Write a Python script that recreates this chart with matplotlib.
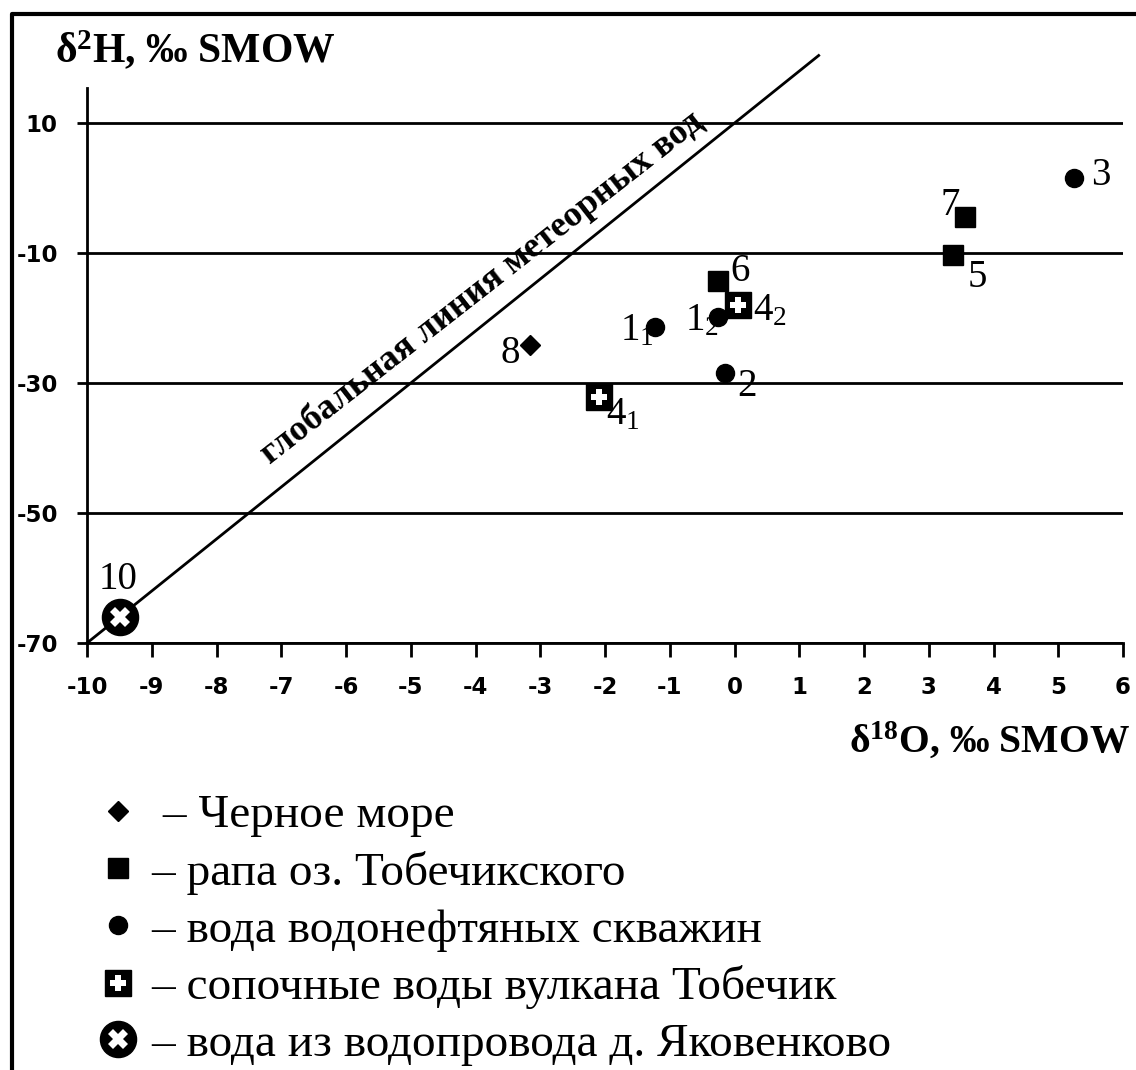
import matplotlib
matplotlib.use("Agg")
import matplotlib.pyplot as plt
from matplotlib.lines import Line2D
from matplotlib.legend_handler import HandlerTuple

plt.rcParams["mathtext.fontset"] = "custom"
plt.rcParams["mathtext.rm"] = "Liberation Serif"
plt.rcParams["mathtext.bf"] = "Liberation Serif:bold"
plt.rcParams["mathtext.it"] = "Liberation Serif:italic"
plt.rcParams["axes.unicode_minus"] = False

SERIF = "Liberation Serif"

# Data (d18O, d2H, per mil SMOW)
sea_x = [-3.16]
sea_y = [-24.2]
sea_lbl = ["8"]

brine_x = [-0.25, 3.37, 3.56]
brine_y = [-14.3, -10.3, -4.45]
brine_lbl = ["6", "5", "7"]

well_x = [-1.23, -0.25, -0.15, 5.24]
well_y = [-21.4, -19.85, -28.5, 1.5]
well_lbl = ["1$_1$", "1$_2$", "2", "3"]

mud_x = [-2.09, 0.05]
mud_y = [-32.15, -18.0]
mud_lbl = ["4$_1$", "4$_2$"]

tap_x = [-9.49]
tap_y = [-66.0]
tap_lbl = ["10"]

# global meteoric water line, end points
gmwl_x = [-10.0, 1.3]
gmwl_y = [-70.0, 20.4]

x_ticks = list(range(-10, 7))
y_ticks = [10, -10, -30, -50, -70]

# label offsets in pixels (dx, dy) for each point
sea_off = [(-20, -8)]
brine_off = [(22, 10), (25, -22), (-15, 12)]
well_off = [(-18, -4), (-16, -4), (22, -13), (27, 3)]
mud_off = [(24, -18), (32, -6)]
tap_off = [(-2, 38)]

fig = plt.figure(figsize=(11.36, 10.7), dpi=100)
ax = fig.add_axes([87 / 1136, 1 - 643 / 1070, (1123 - 87) / 1136, (643 - 88) / 1070])
ax.set_xlim(-10, 6)
ax.set_ylim(-70, 15.4)

ax.spines["top"].set_visible(False)
ax.spines["right"].set_visible(False)
for s in ("left", "bottom"):
    ax.spines[s].set_linewidth(2)
ax.set_xticks(x_ticks)
ax.set_yticks(y_ticks)
ax.tick_params(axis="x", direction="out", length=10, width=2, pad=14, labelsize=16.5)
ax.tick_params(axis="y", direction="out", length=7, width=2, pad=14, labelsize=16.5)
for t in ax.get_xticklabels() + ax.get_yticklabels():
    t.set_fontweight("bold")
    t.set_family("DejaVu Sans")
ax.grid(axis="y", color="black", linewidth=2)
ax.set_axisbelow(True)

ax.plot(gmwl_x, gmwl_y, color="black", linewidth=2, clip_on=False, zorder=2)
ax.text(-3.9, -15.3, "глобальная линия метеорных вод", rotation=38.0,
        rotation_mode="anchor", ha="center", va="center",
        fontsize=26, fontweight="bold", family=SERIF)

h_sea, = ax.plot(sea_x, sea_y, "D", color="black", markersize=10, linestyle="none", zorder=4)
h_brine, = ax.plot(brine_x, brine_y, "s", color="black", markersize=14, linestyle="none", zorder=4)
h_well, = ax.plot(well_x, well_y, "o", color="black", markersize=13, linestyle="none", zorder=4)
h_mud1, = ax.plot(mud_x, mud_y, "s", color="black", markersize=19, linestyle="none", zorder=4)
h_mud2, = ax.plot(mud_x, mud_y, "P", color="white", markersize=11, markeredgewidth=0,
                  linestyle="none", zorder=5)
h_tap1, = ax.plot(tap_x, tap_y, "o", color="black", markersize=26, linestyle="none", zorder=4)
h_tap2, = ax.plot(tap_x, tap_y, "X", color="white", markersize=14, markeredgewidth=0,
                  linestyle="none", zorder=5)

for xs, ys, lbls, offs in [(sea_x, sea_y, sea_lbl, sea_off),
                           (brine_x, brine_y, brine_lbl, brine_off),
                           (well_x, well_y, well_lbl, well_off),
                           (mud_x, mud_y, mud_lbl, mud_off),
                           (tap_x, tap_y, tap_lbl, tap_off)]:
    for x, y, lbl, (dx, dy) in zip(xs, ys, lbls, offs):
        ax.annotate(lbl, (x, y), xytext=(dx, dy), textcoords="offset pixels",
                    ha="center", va="center", fontsize=28, family=SERIF, zorder=6)

# axis titles
fig.text(55 / 1136, 1 - 50 / 1070, r"δ$^\mathbf{2}$H, ‰ SMOW", ha="left", va="center",
         fontsize=30, fontweight="bold", family=SERIF)
fig.text(1130 / 1136, 1 - 740 / 1070, r"δ$^\mathbf{18}$O, ‰ SMOW", ha="right", va="center",
         fontsize=28.5, fontweight="bold", family=SERIF)

# legend
handles = [h_sea, h_brine, h_well, (h_mud1, h_mud2), (h_tap1, h_tap2)]
labels = [" – Черное море", "– рапа оз. Тобечикского", "– вода водонефтяных скважин",
          "– сопочные воды вулкана Тобечик", "– вода из водопровода д. Яковенково"]
fig.legend(handles, labels, loc="upper left", bbox_to_anchor=(96 / 1136, 1 - 794 / 1070),
           frameon=False, numpoints=1, handlelength=0.92, handletextpad=0.25,
           labelspacing=0.29, borderaxespad=0, borderpad=0,
           handler_map={tuple: HandlerTuple(ndivide=1)},
           prop={"family": SERIF, "size": 34})

# picture frame
fig.add_artist(Line2D([12 / 1136, 12 / 1136, 1.0], [0.0, 1 - 14 / 1070, 1 - 14 / 1070],
                      transform=fig.transFigure, color="black", linewidth=3))

fig.savefig("out.png", dpi=100)
